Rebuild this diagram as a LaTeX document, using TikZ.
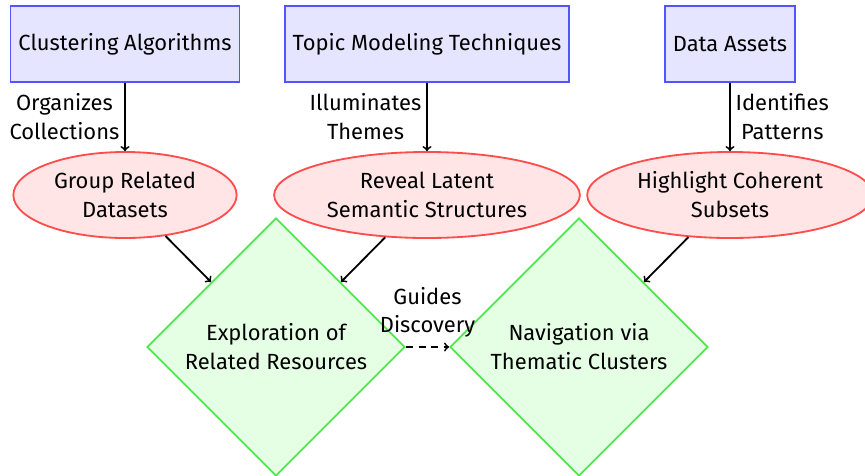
\documentclass[tikz,border=0pt]{standalone}
\usepackage{fontspec}
\setmainfont{Fira Sans}
\usetikzlibrary{shapes.geometric}
\definecolor{goalline}{RGB}{80,230,80}

\begin{document}
\begin{tikzpicture}[x=0.025cm,y=-0.025cm,line width=1.3pt,
  font=\fontsize{15.6}{20.6}\selectfont,
  source/.style={draw=blue!67,fill=blue!10,rectangle,inner xsep=0.2cm,minimum height=1.9cm},
  effect/.style={draw=red!70,fill=red!10,ellipse,align=center,inner xsep=0.2cm,minimum height=2.15cm},
  goal/.style={draw=goalline,fill=green!10,diamond,align=center,minimum width=6.45cm,minimum height=6.45cm},
  link/.style={->,black}]
\useasboundingbox (0,0) rectangle (865,475);

\node[source] (clust) at (125,44) {Clustering Algorithms};
\node[source] (topic) at (427,44) {Topic Modeling Techniques};
\node[source] (data) at (730,44) {Data Assets};

\node[effect] (group) at (125,195) {Group Related\\Datasets};
\node[effect] (reveal) at (427,195) {Reveal Latent\\Semantic Structures};
\node[effect] (highlight) at (730,195) {Highlight Coherent\\Subsets};

\node[goal] (explore) at (276,347) {Exploration of\\Related Resources};
\node[goal] (navig) at (579,347) {Navigation via\\Thematic Clusters};

\draw[link] (clust) -- node[left,align=center] {Organizes\\Collections} (group);
\draw[link] (topic) -- node[left,align=center] {Illuminates\\Themes} (reveal);
\draw[link] (data) -- node[right,align=center] {Identifies\\Patterns} (highlight);

\draw[link] (group) -- (explore.north west);
\draw[link] (reveal) -- (explore.north east);
\draw[link] (highlight) -- (navig.north east);

\draw[link,dash pattern=on 5pt off 4pt] (explore) -- node[above,align=center,inner sep=6pt] {Guides\\Discovery} (navig);
\end{tikzpicture}
\end{document}
